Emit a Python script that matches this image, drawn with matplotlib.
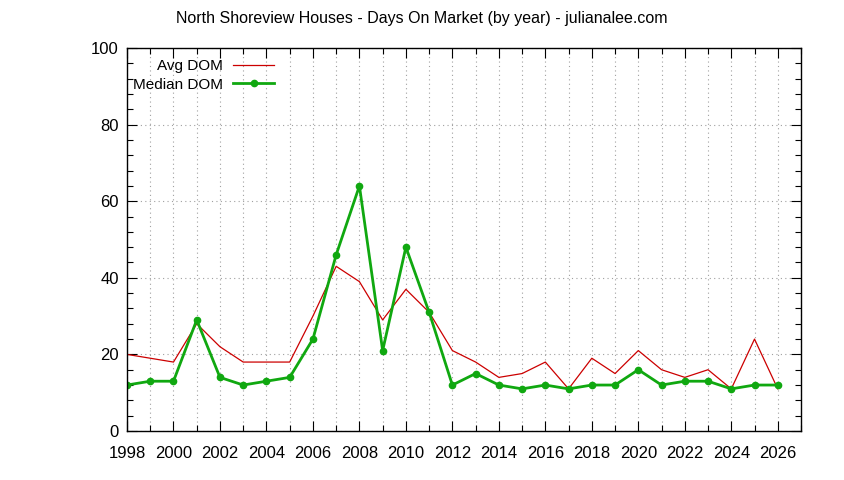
import matplotlib
matplotlib.use("Agg")
import matplotlib.pyplot as plt
from matplotlib.ticker import MultipleLocator

plt.rcParams["font.family"] = ["Liberation Sans", "DejaVu Sans"]

years = list(range(1998, 2027))
avg_dom = [20, 19, 18, 28, 22, 18, 18, 18, 30, 43, 39, 29, 37, 31, 21,
           18, 14, 15, 18, 11, 19, 15, 21, 16, 14, 16, 11, 24, 11]
median_dom = [12, 13, 13, 29, 14, 12, 13, 14, 24, 46, 64, 21, 48, 31, 12,
              15, 12, 11, 12, 11, 12, 12, 16, 12, 13, 13, 11, 12, 12]

fig = plt.figure(figsize=(8.44, 4.8), dpi=100)
ax = fig.add_axes([127 / 844, 49 / 480, 674 / 844, 383 / 480])

ax.plot(years, avg_dom, color="#cc0000", linewidth=0.9, label="Avg DOM")
ax.plot(years, median_dom, color="#10a810", linewidth=2.0, marker="o",
        markersize=4.5, label="Median DOM")

ax.set_xlim(1998, 2027)
ax.set_ylim(0, 100)
ax.xaxis.set_major_locator(MultipleLocator(2))
ax.xaxis.set_minor_locator(MultipleLocator(1))
ax.yaxis.set_major_locator(MultipleLocator(20))
ax.yaxis.set_minor_locator(MultipleLocator(4))
ax.tick_params(which="both", direction="in", top=True, right=True,
               labelsize=12)
ax.tick_params(axis="x", which="both", pad=11)
ax.tick_params(axis="y", which="both", pad=6)
ax.tick_params(which="major", length=7, width=0.8)
ax.tick_params(which="minor", length=4, width=0.8)
ax.grid(which="major", axis="y", color="#a0a0a0", linestyle=(0, (1, 3)), linewidth=0.8)
ax.grid(which="both", axis="x", color="#a0a0a0", linestyle=(0, (1, 3)), linewidth=0.8)
for spine in ax.spines.values():
    spine.set_linewidth(1.0)

fig.text(0.5, 1 - 18 / 480, "North Shoreview Houses - Days On Market (by year) - julianalee.com",
         fontsize=11.5, ha="center", va="center")
ax.legend(loc="upper left", frameon=False, markerfirst=False, fontsize=11,
          handlelength=2.7, handletextpad=0.65, borderaxespad=0.0,
          labelspacing=0.3, bbox_to_anchor=(0.0, 0.987))

fig.savefig("out.png", dpi=100)
